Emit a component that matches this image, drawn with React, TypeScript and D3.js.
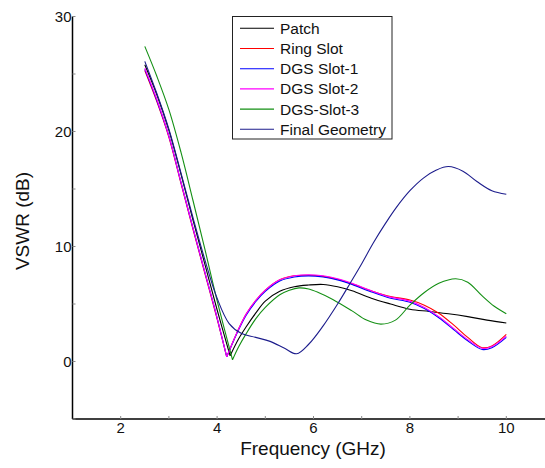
import React from "react";
import * as d3 from "d3";

const seriesNames = ["Patch", "Ring Slot", "DGS Slot-1", "DGS Slot-2", "DGS-Slot-3", "Final Geometry"];
const seriesColors = ["#000000", "#ff0000", "#0000ff", "#ff00ff", "#138f13", "#1c1c8c"];

const patchF = [2.5, 2.75, 3.0, 3.25, 3.5, 3.75, 4.0, 4.27, 4.45, 4.6, 4.8, 5.0, 5.3, 5.6, 5.9, 6.2, 6.5, 6.8, 7.2, 7.6, 8.0, 8.4, 8.8, 9.2, 9.6, 10.0];
const patchV = [25.8, 23.2, 20.1, 16.3, 12.3, 8.4, 4.5, 0.5, 2.0, 3.0, 4.2, 5.25, 6.1, 6.5, 6.65, 6.7, 6.5, 6.15, 5.5, 5.0, 4.55, 4.35, 4.15, 3.9, 3.6, 3.35];

const ringF = [2.5, 2.75, 3.0, 3.25, 3.5, 3.75, 4.0, 4.2, 4.4, 4.6, 4.8, 5.0, 5.3, 5.6, 5.9, 6.2, 6.5, 6.8, 7.2, 7.6, 8.0, 8.3, 8.6, 8.9, 9.2, 9.5, 9.7, 10.0];
const ringV = [25.3, 22.6, 19.5, 15.5, 11.5, 7.6, 3.7, 0.4, 2.4, 4.1, 5.3, 6.2, 7.1, 7.45, 7.5, 7.4, 7.15, 6.75, 6.15, 5.65, 5.35, 4.9, 4.2, 3.2, 2.1, 1.2, 1.35, 2.35];

const dgs1F = [2.5, 2.75, 3.0, 3.25, 3.5, 3.75, 4.0, 4.2, 4.4, 4.6, 4.8, 5.0, 5.3, 5.6, 5.9, 6.2, 6.5, 6.8, 7.2, 7.6, 8.0, 8.3, 8.6, 8.9, 9.2, 9.5, 9.7, 10.0];
const dgs1V = [25.4, 22.7, 19.6, 15.6, 11.6, 7.7, 3.8, 0.4, 2.35, 4.0, 5.2, 6.1, 7.0, 7.35, 7.45, 7.35, 7.1, 6.7, 6.05, 5.5, 5.15, 4.6, 3.8, 2.8, 1.8, 1.05, 1.2, 2.1];

const dgs2F = [2.5, 2.75, 3.0, 3.25, 3.5, 3.75, 4.0, 4.2, 4.4, 4.6, 4.8, 5.0, 5.3, 5.6, 5.9, 6.2, 6.5, 6.8, 7.2, 7.6, 8.0, 8.3, 8.6, 8.9, 9.2, 9.5, 9.7, 10.0];
const dgs2V = [25.5, 22.8, 19.6, 15.6, 11.6, 7.7, 3.8, 0.4, 2.4, 4.1, 5.3, 6.2, 7.1, 7.45, 7.55, 7.45, 7.2, 6.8, 6.15, 5.6, 5.25, 4.7, 3.9, 2.9, 1.9, 1.15, 1.3, 2.2];

const dgs3F = [2.5, 2.75, 3.0, 3.25, 3.5, 3.75, 4.0, 4.32, 4.45, 4.6, 4.8, 5.0, 5.3, 5.5, 5.7, 5.9, 6.1, 6.4, 6.8, 7.1, 7.4, 7.7, 8.0, 8.3, 8.6, 8.95, 9.2, 9.5, 9.75, 10.0];
const dgs3V = [27.4, 24.8, 21.9, 18.2, 14.0, 9.7, 5.3, 0.15, 1.3, 2.4, 3.7, 4.7, 5.8, 6.2, 6.4, 6.3, 6.0, 5.4, 4.4, 3.6, 3.25, 3.6, 4.9, 6.0, 6.8, 7.2, 6.9, 5.7, 4.8, 4.15];

const finalF = [2.5, 2.75, 3.0, 3.25, 3.5, 3.75, 4.0, 4.25, 4.5, 4.8, 5.1, 5.4, 5.65, 5.9, 6.2, 6.5, 6.76, 7.0, 7.24, 7.5, 7.72, 8.0, 8.28, 8.55, 8.8, 9.1, 9.39, 9.7, 10.0];
const finalV = [26.1, 23.3, 20.2, 16.4, 12.5, 8.8, 5.5, 3.3, 2.45, 2.1, 1.75, 1.15, 0.67, 1.5, 3.1, 5.0, 6.8, 8.5, 10.3, 12.05, 13.4, 14.85, 15.95, 16.65, 16.95, 16.55, 15.65, 14.85, 14.55];

const xFreqs = [patchF, ringF, dgs1F, dgs2F, dgs3F, finalF];
const yVals = [patchV, ringV, dgs1V, dgs2V, dgs3V, finalV];
// series whose first dip is a sharp notch
const sharpNotch = [true, true, true, true, true, false];

const xTickLabels = [2, 4, 6, 8, 10];
const xMinorTicks = [2, 3, 4, 5, 6, 7, 8, 9, 10];
const yTickLabels = [0, 10, 20, 30];
const yMinorTicks = [-5, 0, 5, 10, 15, 20, 25, 30];

const W = 545;
const H = 468;
const FONT = "'Liberation Sans', Arial, sans-serif";

export default function App() {
  const x = d3.scaleLinear().domain([1, 11]).range([72.5, 554.5]);
  const y = d3.scaleLinear().domain([-5, 30]).range([419, 16.5]);
  const line = d3
    .line<[number, number]>()
    .x((d) => x(d[0]))
    .y((d) => y(d[1]))
    .curve(d3.curveCatmullRom.alpha(0.5));

  const x0 = x(1);
  const y0 = y(-5);

  const legX = 232.5;
  const legY = 16.5;
  const legW = 159.5;
  const legH = 122.5;
  const rowY = (i: number) => 28.3 + i * 20.2;

  const pathFor = (i: number) => {
    const pts: [number, number][] = xFreqs[i].map((f: number, j: number) => [f, yVals[i][j]]);
    if (!sharpNotch[i]) return line(pts) || "";
    let k = 1;
    while (k < pts.length - 1 && !(pts[k][1] < pts[k - 1][1] && pts[k][1] < pts[k + 1][1])) k++;
    return (line(pts.slice(0, k + 1)) || "") + (line(pts.slice(k)) || "");
  };

  return (
    <svg width={W} height={H} style={{ position: "absolute", left: 0, top: 0 }} fontFamily={FONT}>
      <rect x={0} y={0} width={W} height={H} fill="#fff" />
      {seriesNames.map((n, i) => (
        <path key={n} d={pathFor(i)} fill="none" stroke={seriesColors[i]} strokeWidth={1.1} strokeLinejoin="miter" />
      ))}
      <line x1={x0} y1={y(30)} x2={x0} y2={y0} stroke="#000" strokeWidth={1.5} />
      <line x1={x0} y1={y0} x2={W} y2={y0} stroke="#000" strokeWidth={1.5} />
      {yMinorTicks.map((t) => (
        <line key={"yt" + t} x1={x0} x2={x0 + 3} y1={y(t)} y2={y(t)} stroke="#888" strokeWidth={1} />
      ))}
      {xMinorTicks.map((t) => (
        <line key={"xt" + t} x1={x(t)} x2={x(t)} y1={y0} y2={y0 - 3} stroke="#888" strokeWidth={1} />
      ))}
      {yTickLabels.map((t) => (
        <text key={"yl" + t} x={x0 - 1} y={y(t)} dy="0.36em" textAnchor="end" fontSize={15} fill="#111">
          {t}
        </text>
      ))}
      {xTickLabels.map((t) => (
        <text key={"xl" + t} x={x(t)} y={y0 + 13.5} textAnchor="middle" fontSize={15} fill="#111">
          {t}
        </text>
      ))}
      <text x={313} y={455} textAnchor="middle" fontSize={19} fill="#111">
        Frequency (GHz)
      </text>
      <text transform={`translate(29,221) rotate(-90)`} textAnchor="middle" fontSize={19} fill="#111">
        VSWR (dB)
      </text>
      <rect x={legX} y={legY} width={legW} height={legH} fill="#fff" stroke="#222" strokeWidth={1} />
      {seriesNames.map((n, i) => (
        <g key={"lg" + n}>
          <line x1={240} x2={274} y1={rowY(i)} y2={rowY(i)} stroke={seriesColors[i]} strokeWidth={1.1} />
          <text x={280} y={rowY(i)} dy="0.36em" fontSize={15.5} fill="#111">
            {n}
          </text>
        </g>
      ))}
    </svg>
  );
}
